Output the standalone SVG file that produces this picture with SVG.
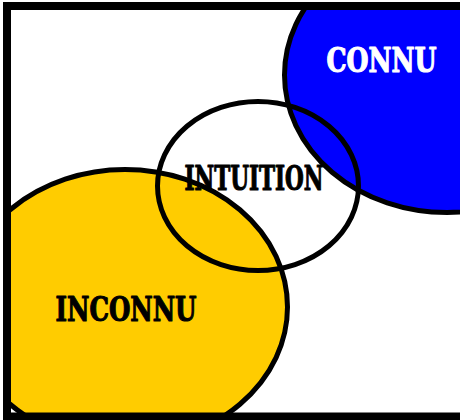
<svg xmlns="http://www.w3.org/2000/svg" width="460" height="420" viewBox="0 0 460 420">
  <style>
    .set { stroke: #000; stroke-width: 5; }
    .label { font-family: "DejaVu Serif Condensed", "DejaVu Serif", "Liberation Serif", serif; font-stretch: condensed; font-weight: bold; font-size: 33px; text-anchor: middle; stroke-width: 1.1; stroke-linejoin: round; }
    .light { fill: #fff; stroke: #fff; }
    .dark { fill: #000; stroke: #000; }
  </style>
  <defs>
    <clipPath id="inner">
      <rect x="11" y="10" width="460" height="403" rx="3"/>
    </clipPath>
  </defs>
  <rect width="460" height="420" fill="#fff"/>

  <g clip-path="url(#inner)">
    <g id="connu-set">
      <ellipse class="set" cx="447" cy="75" rx="162.5" ry="137.5" fill="#0000ff"/>
    </g>
    <g id="inconnu-set">
      <ellipse class="set" cx="125" cy="307" rx="162.5" ry="137.5" fill="#ffcc00"/>
    </g>
  </g>

  <g id="intuition-set">
    <ellipse class="set" cx="258" cy="186" rx="100.5" ry="84.5" fill="none"/>
  </g>

  <!-- outer frame -->
  <rect x="7" y="6" width="470" height="410.5" fill="none" stroke="#000" stroke-width="8"/>

  <g id="labels">
    <text class="label light" x="381.5" y="72" textLength="110" lengthAdjust="spacingAndGlyphs">CONNU</text>
    <text class="label dark" x="254" y="190" font-size="32" textLength="139" lengthAdjust="spacingAndGlyphs">INTUITION</text>
    <text class="label dark" x="126" y="321" font-size="35" textLength="141" lengthAdjust="spacingAndGlyphs">INCONNU</text>
  </g>
</svg>
